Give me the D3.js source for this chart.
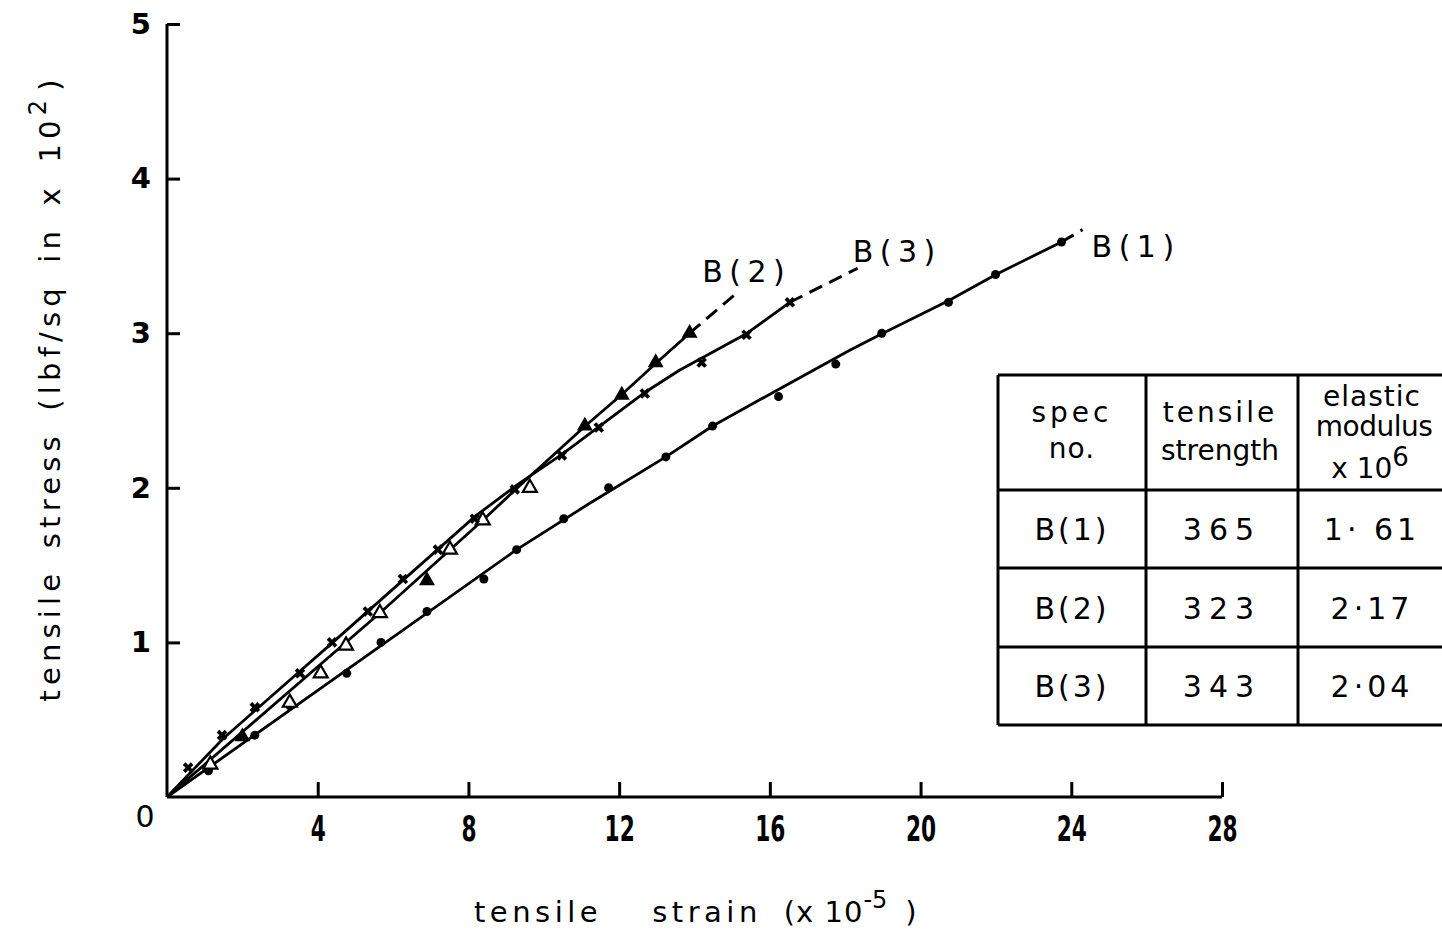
<!DOCTYPE html>
<html>
<head>
<meta charset="utf-8">
<script src="https://cdn.jsdelivr.net/npm/d3@7"></script>
<style>
  body { margin: 0; background: #fff; }
  text { font-family: "DejaVu Sans", sans-serif; fill: #000; }
</style>
</head>
<body>
<div id="graph"></div>
<script>
// measured points  [strain x1e-5, stress x1e2 lbf/sq in]
var b1Points = [[1.1,0.17],[2.33,0.40],[3.26,0.59],[4.77,0.80],[5.68,1.00],[6.9,1.20],[8.41,1.41],[9.28,1.60],
  [10.53,1.80],[11.72,2.00],[13.24,2.20],[14.48,2.40],[16.23,2.59],[17.75,2.80],[18.97,3.00],[20.74,3.20],[21.99,3.38],[23.74,3.59]];
var b2Open = [[1.15,0.21],[3.26,0.61],[4.08,0.80],[4.75,0.98],[5.65,1.19],[7.51,1.60],[8.38,1.79],[9.63,2.00]];
var b2Filled = [[2.0,0.39],[6.9,1.40],[11.09,2.40],[12.07,2.60],[12.97,2.81],[13.87,3.00]];
var b3Points = [[0.56,0.19],[1.46,0.40],[2.33,0.58],[3.53,0.80],[4.38,1.00],[5.33,1.20],[6.26,1.41],[7.19,1.60],
  [8.17,1.80],[9.23,1.99],[10.48,2.21],[11.46,2.39],[12.68,2.61],[14.19,2.81],[15.38,2.99],[16.53,3.20]];

// fitted curves (solid) and extrapolations (dashed)
var b1Curve = [[0,0],[9.28,1.6],[11.22,1.9],[13.24,2.2],[14.48,2.4],[16.18,2.63],[18.12,2.89],[19,3.0],[20.74,3.21],[22,3.38],[23.74,3.59]];
var b1Dash  = [[23.74,3.59],[24.3,3.67]];
var b2Curve = [[0,0],[5.65,1.19],[8.38,1.79],[9.3,2.0],[11.1,2.40],[12.1,2.61],[13.0,2.81],[13.87,3.0]];
var b2Dash  = [[13.87,3.0],[15.12,3.26]];
var b3Curve = [[0,0],[1.5,0.38],[4.4,1.0],[8.2,1.82],[9.3,2.02],[10.5,2.22],[12.7,2.62],[13.6,2.76],[15.4,3.0],[16.53,3.2]];
var b3Dash  = [[16.53,3.2],[18.33,3.42]];

var xTicks = [4, 8, 12, 16, 20, 24, 28];
var yTicks = [1, 2, 3, 4, 5];

// table
var tableRows = [["B(1)", "365", "1\u00b7 61"], ["B(2)", "323", "2\u00b717"], ["B(3)", "343", "2\u00b704"]];

const W = 1442, H = 930;

var svg = d3.select("#graph").append("svg")
    .attr("width", W).attr("height", H);

var x = d3.scaleLinear().domain([0, 28]).range([167, 1222]);
var y = d3.scaleLinear().domain([0, 5]).range([797, 24]);

//X axis
var xAxis = svg.append("g")
    .attr("transform", "translate(0," + y(0) + ")")
    .call(d3.axisBottom(x).tickValues(xTicks).tickSizeInner(-15).tickSizeOuter(0).tickPadding(19));
xAxis.select(".domain").attr("stroke-width", 3).attr("d", "M" + x(0) + ",0H" + x(28));
xAxis.selectAll(".tick line").attr("stroke-width", 3);
xAxis.selectAll(".tick text")
    .attr("font-size", 35)
    .attr("font-weight", "bold")
    .attr("transform", "scale(0.62,1)");

//Y axis
var yAxis = svg.append("g")
    .attr("transform", "translate(" + x(0) + ",0)")
    .call(d3.axisLeft(y).tickValues(yTicks).tickFormat(d3.format("d"))
          .tickSizeInner(-13).tickSizeOuter(0).tickPadding(16));
yAxis.select(".domain").attr("stroke-width", 3).attr("d", "M0," + y(0) + "V" + y(5));
yAxis.selectAll(".tick line").attr("stroke-width", 3);
yAxis.selectAll(".tick text").attr("font-size", 29).attr("font-weight", "bold");

// shared origin label
svg.append("text")
    .attr("x", x(0) - 22).attr("y", y(0) + 30)
    .attr("text-anchor", "middle")
    .attr("font-size", 30)
    .text("0");

//X label
var xl = svg.append("text")
    .attr("x", 474).attr("y", 922)
    .attr("font-size", 29)
    .attr("letter-spacing", 4.5);
xl.append("tspan").text("tensile");
xl.append("tspan").attr("dx", 50).text("strain");
xl.append("tspan").attr("dx", 22).attr("letter-spacing", 1).text("(x 10");
xl.append("tspan").attr("dy", -14).attr("font-size", 24).attr("letter-spacing", 0).text("-5");
xl.append("tspan").attr("dy", 14).attr("dx", 18).text(")");

//Y label
var yl = svg.append("text")
    .attr("transform", "translate(60,388) rotate(-90)")
    .attr("text-anchor", "middle")
    .attr("font-size", 29)
    .attr("letter-spacing", 5.2)
    .attr("word-spacing", 6);
yl.append("tspan").text("tensile stress (lbf/sq in x 10");
yl.append("tspan").attr("dy", -14).attr("font-size", 24).text("2");
yl.append("tspan").attr("dy", 14).attr("dx", 4).text(")");

//lines
var line = d3.line().x(d => x(d[0])).y(d => y(d[1]));

function drawLine(pts, dashed) {
  svg.append("path")
     .attr("d", line(pts))
     .attr("fill", "none")
     .attr("stroke", "#000")
     .attr("stroke-width", dashed ? 3 : 2.8)
     .attr("stroke-linejoin", "round")
     .attr("stroke-dasharray", dashed ? "14,8" : null);
}
drawLine(b1Curve); drawLine(b1Dash, true);
drawLine(b2Curve); drawLine(b2Dash, true);
drawLine(b3Curve); drawLine(b3Dash, true);

//markers
svg.append("g").selectAll("circle")
   .data(b1Points).enter().append("circle")
   .attr("cx", d => x(d[0])).attr("cy", d => y(d[1]))
   .attr("r", 4.5).attr("fill", "#000");

var tri = d3.symbol().type(d3.symbolTriangle).size(110);
svg.append("g").selectAll("path")
   .data(b2Filled).enter().append("path")
   .attr("d", tri)
   .attr("transform", d => "translate(" + x(d[0]) + "," + y(d[1]) + ")")
   .attr("fill", "#000");
svg.append("g").selectAll("path")
   .data(b2Open).enter().append("path")
   .attr("d", d3.symbol().type(d3.symbolTriangle).size(85))
   .attr("transform", d => "translate(" + x(d[0]) + "," + y(d[1]) + ")")
   .attr("fill", "#fff").attr("stroke", "#000").attr("stroke-width", 2.2);

svg.append("g").selectAll("path")
   .data(b3Points).enter().append("path")
   .attr("d", d3.symbol().type(d3.symbolCross).size(70))
   .attr("transform", d => "translate(" + x(d[0]) + "," + y(d[1]) + ") rotate(45)")
   .attr("fill", "#000");

//series labels, placed off the end of each dashed line
function seriesLabel(txt, pt, dx, dy, anchor) {
  svg.append("text")
     .attr("x", x(pt[0]) + dx).attr("y", y(pt[1]) + dy)
     .attr("text-anchor", anchor)
     .attr("font-size", 30)
     .attr("letter-spacing", 6.5)
     .text(txt);
}
seriesLabel("B(2)", b2Dash[1], 10, -11, "middle");
seriesLabel("B(3)", b3Dash[1], -5, -6, "start");
seriesLabel("B(1)", b1Dash[1], 9, 27, "start");

//table
var colX = [998, 1146, 1298, 1450];
var rowY = [375, 490, 568, 647, 725];
var tb = svg.append("g");
rowY.forEach(function (yy) {
  tb.append("line").attr("x1", colX[0]).attr("x2", colX[3]).attr("y1", yy).attr("y2", yy)
    .attr("stroke", "#000").attr("stroke-width", 3);
});
colX.slice(0, 3).forEach(function (xx) {
  tb.append("line").attr("x1", xx).attr("x2", xx).attr("y1", rowY[0]).attr("y2", rowY[4])
    .attr("stroke", "#000").attr("stroke-width", 3);
});

function cellText(cx, cy, txt, size, ls) {
  return tb.append("text").attr("x", cx).attr("y", cy)
    .attr("text-anchor", "middle").attr("font-size", size)
    .attr("letter-spacing", ls).text(txt);
}
cellText(1072, 422, "spec", 28, 4);
cellText(1072, 458, "no.", 28, 1);
cellText(1220, 422, "tensile", 28, 3);
cellText(1220, 460, "strength", 28, 0);
cellText(1372, 406, "elastic", 28, 1);
cellText(1374, 436, "modulus", 28, -0.5);
var ex = tb.append("text").attr("x", 1370).attr("y", 478).attr("text-anchor", "middle").attr("font-size", 28);
ex.append("tspan").text("x 10");
ex.append("tspan").attr("dy", -12).attr("font-size", 26).text("6");

tableRows.forEach(function (r, i) {
  var cy = (rowY[i + 1] + rowY[i + 2]) / 2 + 11;
  cellText(1072, cy, r[0], 30, 3);
  cellText(1222, cy, r[1], 30, 7);
  cellText(1372, cy, r[2], 30, 4);
});
</script>
</body>
</html>
